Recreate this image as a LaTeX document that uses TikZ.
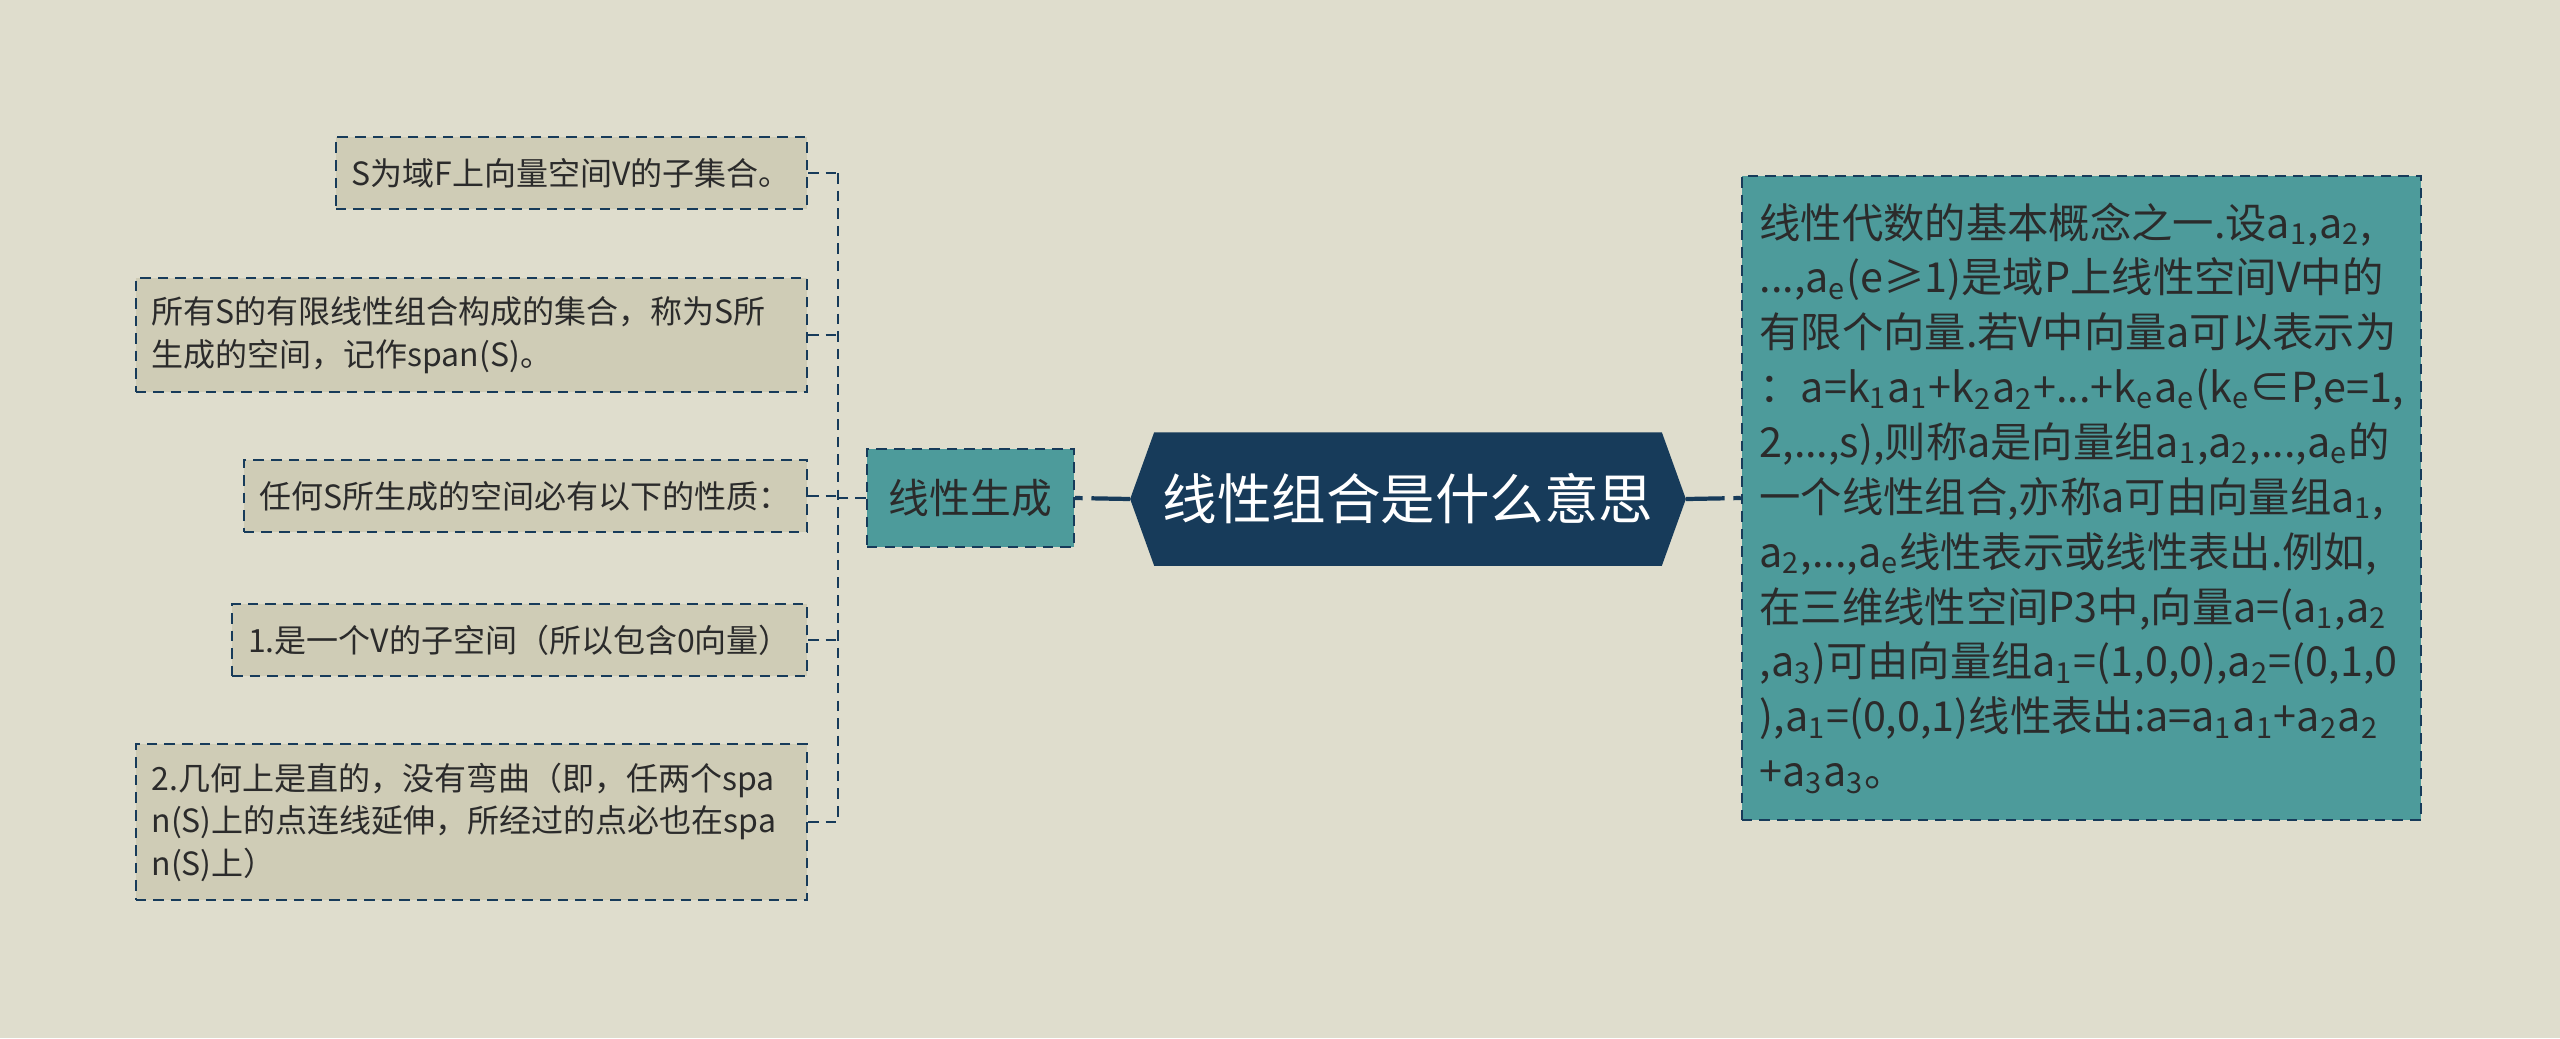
\documentclass[tikz,border=0pt]{standalone}
\usepackage{fontspec}
\setmainfont{Noto Sans CJK SC}
\usetikzlibrary{backgrounds}
\definecolor{paper}{RGB}{223,221,205}
\definecolor{leaffill}{RGB}{207,204,182}
\definecolor{tealfill}{RGB}{77,155,155}
\definecolor{navy}{RGB}{23,59,90}
\definecolor{ink}{RGB}{43,43,43}
\newcommand{\sbs}[1]{\textsubscript{#1}}

\begin{document}
\begin{tikzpicture}[
  x=0.01cm, y=-0.01cm,
  leaf/.style={draw=navy, line width=0.6pt, dash pattern=on 3pt off 2pt, fill=leaffill,
               text=ink, align=left, inner xsep=0.16cm, inner ysep=0pt,
               minimum height=0.72cm, anchor=east, font=\fontsize{9.1}{12.1}\selectfont},
  wide/.style={text width=6.39cm},
  branch/.style={draw=navy, line width=0.6pt, dash pattern=on 3pt off 2pt, fill=tealfill,
                 text=ink, align=center, minimum width=2.07cm, minimum height=0.98cm,
                 font=\fontsize{11.6}{14}\selectfont},
  hubbox/.style={text=white, minimum width=5.54cm, minimum height=1.32cm,
                 font=\fontsize{15.5}{18}\selectfont},
  note/.style={draw=navy, line width=0.6pt, dash pattern=on 3pt off 2pt, fill=tealfill,
               text=ink, align=left, minimum width=6.79cm, minimum height=6.44cm,
               font=\fontsize{11.75}{15.6}\selectfont},
  link/.style={draw=navy, line width=0.7pt, dash pattern=on 3pt off 2pt},
  trunk/.style={draw=navy, line width=1.2pt, dash pattern=on 11pt off 2.5pt}
]
\useasboundingbox (0,0) rectangle (2560,1038);

% centre and main branches
\node[hubbox] (hub) at (1408,499) {线性组合是什么意思};
\node[branch] (gen) at (970.5,498) {线性生成};
\node[note] (def) at (2081.5,498) {线性代数的基本概念之一.设a\sbs{1},a\sbs{2},\\
...,a\sbs{e}(e≥1)是域P上线性空间V中的\\
有限个向量.若V中向量a可以表示为\\
：a=k\sbs{1}a\sbs{1}+k\sbs{2}a\sbs{2}+...+k\sbs{e}a\sbs{e}(k\sbs{e}∈P,e=1,\\
2,...,s),则称a是向量组a\sbs{1},a\sbs{2},...,a\sbs{e}的\\
一个线性组合,亦称a可由向量组a\sbs{1},\\
a\sbs{2},...,a\sbs{e}线性表示或线性表出.例如,\\
在三维线性空间P3中,向量a=(a\sbs{1},a\sbs{2}\\
,a\sbs{3})可由向量组a\sbs{1}=(1,0,0),a\sbs{2}=(0,1,0\\
),a\sbs{1}=(0,0,1)线性表出:a=a\sbs{1}a\sbs{1}+a\sbs{2}a\sbs{2}\\
+a\sbs{3}a\sbs{3}。};

% leaves of the left branch
\node[leaf] (subset) at (808,173) {S为域F上向量空间V的子集合。};
\node[leaf, wide, minimum height=1.14cm] (span) at (808,335) {所有S的有限线性组合构成的集合，称为S所\\生成的空间，记作span(S)。};
\node[leaf] (props) at (808,496) {任何S所生成的空间必有以下的性质：};
\node[leaf] (prop1) at (808,640) {1.是一个V的子空间（所以包含0向量）};
\node[leaf, wide, minimum height=1.56cm] (prop2) at (808,822) {2.几何上是直的，没有弯曲（即，任两个spa\\n(S)上的点连线延伸，所经过的点必也在spa\\n(S)上）};

\coordinate (spine) at (838,498);

\begin{scope}[on background layer]
  \fill[paper] (0,0) rectangle (2560,1038);
  \fill[navy] (hub.west) -- ([xshift=0.24cm]hub.north west) -- ([xshift=-0.24cm]hub.north east)
    -- (hub.east) -- ([xshift=-0.24cm]hub.south east) -- ([xshift=0.24cm]hub.south west) -- cycle;
\end{scope}

\draw[trunk] (hub.west) -- (gen.east);
\draw[trunk] (hub.east) -- (def.west);

\draw[link] (gen.west) -- (gen.west -| spine);
\draw[link] (subset.east -| spine) -- (prop2.east -| spine);
\foreach \n in {subset,span,props,prop1,prop2}
  \draw[link] (\n.east) -- (\n.east -| spine);
\end{tikzpicture}
\end{document}
